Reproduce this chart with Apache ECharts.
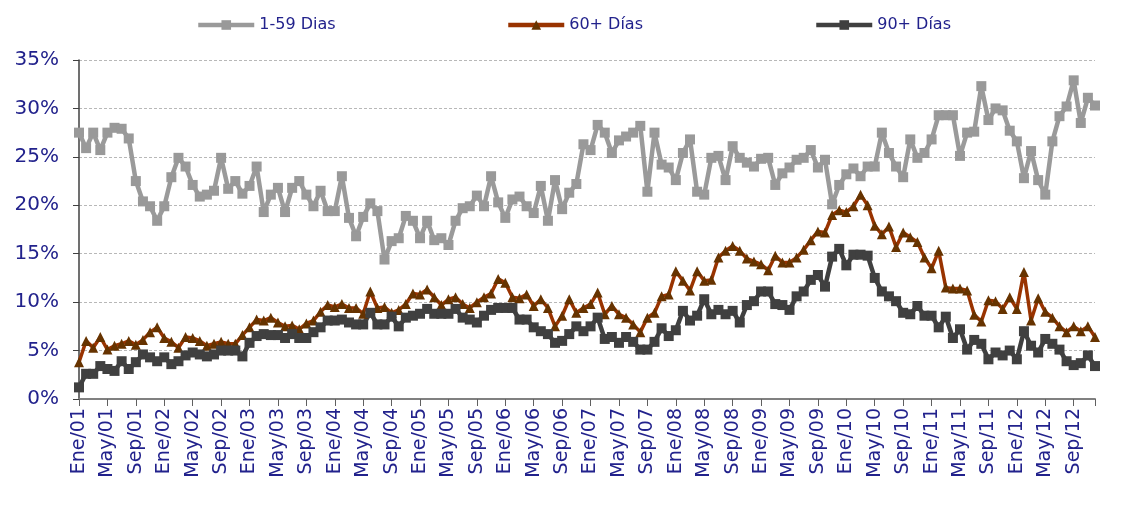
<!DOCTYPE html>
<html>
<head>
<meta charset="utf-8">
<script src="https://cdn.jsdelivr.net/npm/echarts@6/dist/echarts.min.js"></script>
<style>
html,body{margin:0;padding:0;background:#fff;}
#chart{width:1140px;height:510px;}
</style>
</head>
<body>
<div id="chart"></div>
<script>
// Tick/category labels
var monthNames = ['Ene','Feb','Mar','Abr','May','Jun','Jul','Ago','Sep','Oct','Nov','Dic'];
var years = ['01','02','03','04','05','06','07','08','09','10','11','12'];
var yTicks = [0, 5, 10, 15, 20, 25, 30, 35];

// Series values (%), monthly Ene/01 .. Dic/12
var dias1_59 = [
  27.5, 25.9, 27.5, 25.7, 27.5, 28.0, 27.9, 26.9, 22.5, 20.4, 19.9, 18.4,
  19.9, 22.9, 24.9, 24.0, 22.1, 20.9, 21.1, 21.5, 24.9, 21.7, 22.5, 21.2,
  22.0, 24.0, 19.3, 21.1, 21.8, 19.3, 21.8, 22.5, 21.1, 19.9, 21.5, 19.4,
  19.4, 23.0, 18.7, 16.8, 18.8, 20.2, 19.4, 14.4, 16.3, 16.6, 18.9, 18.4,
  16.6, 18.4, 16.4, 16.6, 15.9, 18.4, 19.7, 19.9, 21.0, 19.9, 23.0, 20.3,
  18.7, 20.6, 20.9, 19.9, 19.2, 22.0, 18.4, 22.6, 19.6, 21.3, 22.2, 26.3,
  25.7, 28.3, 27.5, 25.4, 26.7, 27.1, 27.5, 28.2, 21.4, 27.5, 24.2, 23.9,
  22.6, 25.4, 26.8, 21.4, 21.1, 24.9, 25.1, 22.6, 26.1, 24.9, 24.4, 24.0,
  24.8, 24.9, 22.1, 23.3, 23.9, 24.7, 24.9, 25.7, 23.9, 24.7, 20.1, 22.1,
  23.2, 23.8, 23.0, 24.0, 24.0, 27.5, 25.4, 24.0, 22.9, 26.8, 24.9, 25.4,
  26.8, 29.3, 29.3, 29.3, 25.1, 27.5, 27.6, 32.3, 28.8, 30.0, 29.8, 27.7,
  26.6, 22.8, 25.6, 22.6, 21.1, 26.6, 29.2, 30.2, 32.9, 28.5, 31.1, 30.3
];
var dias60 = [
  3.8, 6.0, 5.3, 6.4, 5.1, 5.5, 5.7, 6.0, 5.6, 6.1, 6.9, 7.4,
  6.3, 5.9, 5.3, 6.4, 6.3, 6.0, 5.5, 5.7, 5.9, 5.7, 5.7, 6.6,
  7.4, 8.2, 8.1, 8.4, 7.9, 7.5, 7.6, 7.2, 7.8, 8.1, 9.0, 9.7,
  9.5, 9.8, 9.4, 9.4, 8.8, 11.1, 9.4, 9.5, 8.9, 9.2, 9.8, 10.9,
  10.8, 11.3, 10.5, 9.7, 10.3, 10.5, 9.8, 9.4, 10.0, 10.5, 10.9, 12.4,
  12.0, 10.5, 10.4, 10.8, 9.6, 10.3, 9.4, 7.5, 8.6, 10.3, 8.9, 9.4,
  9.8, 11.0, 8.75, 9.6, 8.75, 8.4, 7.7, 6.9, 8.4, 8.9, 10.6, 10.8,
  13.2, 12.2, 11.2, 13.2, 12.2, 12.3, 14.6, 15.3, 15.8, 15.3, 14.5, 14.2,
  13.9, 13.3, 14.8, 14.1, 14.1, 14.6, 15.4, 16.4, 17.3, 17.2, 19.0, 19.5,
  19.3, 19.9, 21.1, 20.0, 17.9, 17.0, 17.8, 15.7, 17.2, 16.7, 16.2, 14.6,
  13.5, 15.3, 11.5, 11.4, 11.4, 11.2, 8.7, 8.0, 10.2, 10.1, 9.3, 10.5,
  9.3, 13.1, 8.1, 10.4, 9.0, 8.4, 7.5, 6.9, 7.5, 7.0, 7.5, 6.4
];
var dias90 = [
  1.2, 2.6, 2.6, 3.4, 3.1, 2.9, 3.9, 3.1, 3.8, 4.6, 4.3, 3.9,
  4.3, 3.6, 3.9, 4.5, 4.8, 4.6, 4.4, 4.6, 5.0, 5.0, 5.0, 4.4,
  5.8, 6.5, 6.7, 6.6, 6.6, 6.3, 6.7, 6.3, 6.3, 6.9, 7.4, 8.1,
  8.1, 8.2, 7.9, 7.7, 7.7, 8.9, 7.7, 7.7, 8.5, 7.5, 8.4, 8.6,
  8.8, 9.3, 8.8, 8.8, 8.8, 9.3, 8.4, 8.2, 7.9, 8.6, 9.2, 9.4,
  9.4, 9.4, 8.2, 8.2, 7.4, 7.0, 6.7, 5.8, 6.0, 6.7, 7.5, 7.0,
  7.5, 8.4, 6.2, 6.4, 5.8, 6.4, 5.9, 5.1, 5.1, 5.9, 7.3, 6.5,
  7.1, 9.1, 8.1, 8.6, 10.3, 8.75, 9.2, 8.75, 9.1, 7.9, 9.7, 10.1,
  11.1, 11.1, 9.8, 9.7, 9.2, 10.6, 11.1, 12.3, 12.8, 11.6, 14.7, 15.5,
  13.8, 14.9, 14.9, 14.8, 12.5, 11.1, 10.6, 10.1, 8.9, 8.75, 9.6, 8.6,
  8.6, 7.4, 8.5, 6.3, 7.2, 5.1, 6.1, 5.7, 4.1, 4.8, 4.5, 5.0,
  4.1, 7.0, 5.5, 4.8, 6.2, 5.7, 5.1, 3.9, 3.5, 3.7, 4.5, 3.4
];

var categories = [];
years.forEach(function (y) {
  monthNames.forEach(function (m) { categories.push(m + '/' + y); });
});

var FONT = 'DejaVu Sans';
var TXT = '#22228c';
var lastIdx = categories.length - 1;

var chart = echarts.init(document.getElementById('chart'), null, {renderer: 'canvas'});
function legendFor(name, left) {
  return {
    data: [name],
    left: left,
    top: 12,
    itemWidth: 56,
    itemHeight: 12,
    lineStyle: {width: 4.5},
    textStyle: {color: TXT, fontFamily: FONT, fontSize: 16}
  };
}
chart.setOption({
  animation: false,
  backgroundColor: '#ffffff',
  legend: [
    legendFor('1-59 Dias', 191),
    legendFor('60+ Días', 501),
    legendFor('90+ Días', 809)
  ],
  grid: {left: 79, right: 45, top: 60, bottom: 111, containLabel: false},
  xAxis: {
    type: 'category',
    data: categories,
    boundaryGap: false,
    axisLine: {lineStyle: {color: '#808080', width: 2}},
    axisTick: {
      length: 7,
      interval: function (i) { return i % 4 === 0 || i === lastIdx; },
      lineStyle: {color: '#606060', width: 1}
    },
    axisLabel: {
      interval: 3,
      rotate: 90,
      margin: 9,
      color: TXT,
      fontFamily: FONT,
      fontSize: 19
    },
    splitLine: {show: false}
  },
  yAxis: {
    type: 'value',
    min: yTicks[0],
    max: yTicks[yTicks.length - 1],
    interval: yTicks[1] - yTicks[0],
    axisLine: {show: true, lineStyle: {color: '#404040', width: 1.5}},
    axisTick: {show: true, length: 6, lineStyle: {color: '#404040'}},
    axisLabel: {
      formatter: '{value}%',
      margin: 20,
      color: TXT,
      fontFamily: FONT,
      fontSize: 20
    },
    splitLine: {lineStyle: {color: '#b8b8b8', type: [3, 2], width: 1}}
  },
  series: [
    {
      name: '1-59 Dias',
      type: 'line',
      data: dias1_59,
      symbol: 'rect',
      symbolSize: 10,
      showAllSymbol: true,
      lineStyle: {color: '#9a9a9a', width: 4.5},
      itemStyle: {color: '#999999'}
    },
    {
      name: '60+ Días',
      type: 'line',
      data: dias60,
      symbol: 'triangle',
      symbolSize: 10,
      showAllSymbol: true,
      lineStyle: {color: '#993300', width: 3.5},
      itemStyle: {color: '#663300'}
    },
    {
      name: '90+ Días',
      type: 'line',
      data: dias90,
      symbol: 'rect',
      symbolSize: 10,
      showAllSymbol: true,
      lineStyle: {color: '#404040', width: 4.5},
      itemStyle: {color: '#404040'}
    }
  ]
});
</script>
</body>
</html>
